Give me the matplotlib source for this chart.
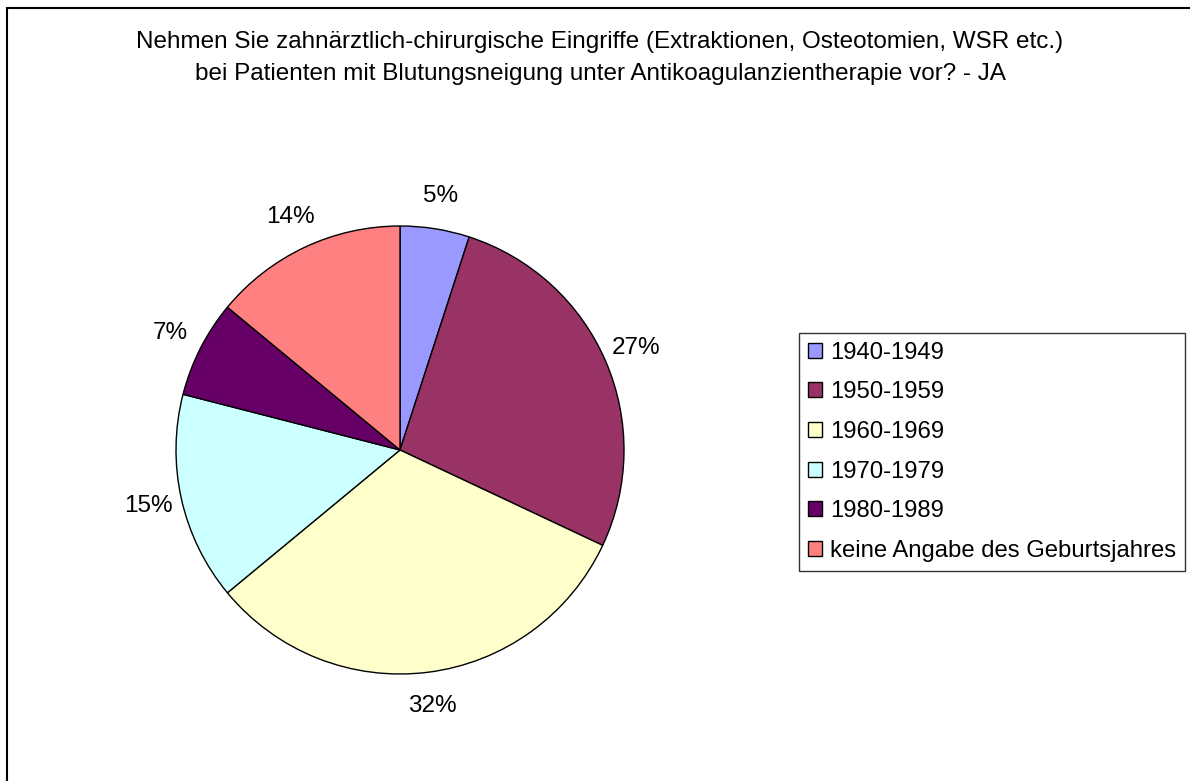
import matplotlib.pyplot as plt
from matplotlib.patches import Patch, Rectangle

plt.rcParams['font.family'] = ['Liberation Sans', 'DejaVu Sans']

# data
categories = ['1940-1949', '1950-1959', '1960-1969', '1970-1979', '1980-1989',
              'keine Angabe des Geburtsjahres']
shares = [5, 27, 32, 15, 7, 14]
colors = ['#9999FF', '#993366', '#FFFFCC', '#CCFFFF', '#660066', '#FF8080']
title = ('Nehmen Sie zahnärztlich-chirurgische Eingriffe (Extraktionen, Osteotomien, WSR etc.)\n'
         'bei Patienten mit Blutungsneigung unter Antikoagulanzientherapie vor? - JA')

W, H = 1190, 781
fs = 17.5
fig = plt.figure(figsize=(W / 100, H / 100), dpi=100)

# outer frame (runs off right and bottom edges)
fig.patches.append(Rectangle((7 / W, -0.1), 1.2, 1.1 - 8 / H, transform=fig.transFigure,
                             fill=False, edgecolor='black', linewidth=1.5))

fig.text(600 / W, 1 - 58 / H, title, ha='center', va='center', fontsize=fs,
         linespacing=1.6)

# pie axes: centre (400, 450), radius 224 px
cx, cy, r = 400, 450, 224
ax = fig.add_axes([(cx - r) / W, (H - cy - r) / H, 2 * r / W, 2 * r / H])
ax.pie(shares, colors=colors, startangle=90, counterclock=False,
       wedgeprops=dict(edgecolor='black', linewidth=1),
       autopct='%d%%', pctdistance=1.15, textprops=dict(fontsize=fs))
ax.set_xlim(-1, 1)
ax.set_ylim(-1, 1)
ax.set_aspect('equal')
ax.axis('off')

handles = [Patch(facecolor=c, edgecolor='black', linewidth=1) for c in colors]
leg = fig.legend(handles, categories, loc='upper left',
                 bbox_to_anchor=(799 / W, 1 - 333 / H), fontsize=17.2,
                 frameon=True, fancybox=False, edgecolor='black',
                 handlelength=0.6, handleheight=0.6, handletextpad=0.33,
                 labelspacing=0.74, borderpad=0.36, borderaxespad=0)
leg.get_frame().set_linewidth(1)

fig.savefig('out.png', dpi=100)
